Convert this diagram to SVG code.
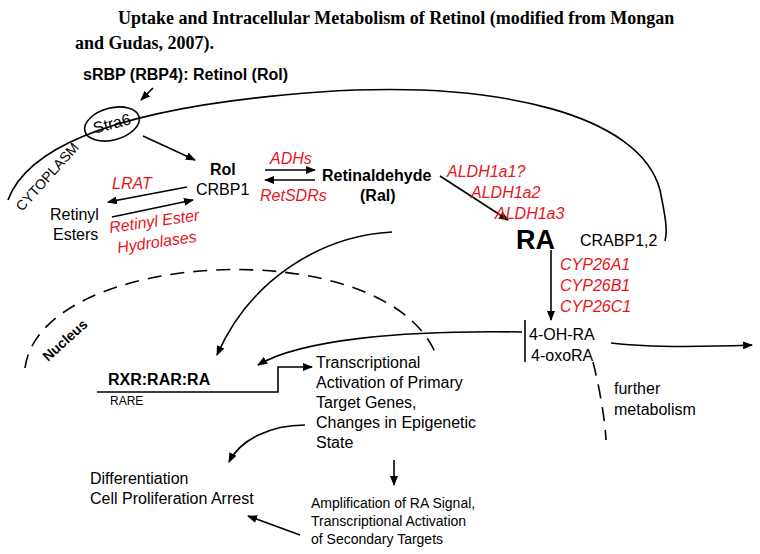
<svg xmlns="http://www.w3.org/2000/svg" width="760" height="554" viewBox="0 0 760 554">
<style>
text{font-family:"Liberation Sans",Arial,sans-serif;font-size:16px;fill:#000}
.t{font-family:"Liberation Serif","Times New Roman",serif;font-weight:bold;font-size:18px}
.b{font-weight:bold}
.r{fill:#e8141c;font-style:italic}
.s{font-size:14px}
.l{fill:none;stroke:#000;stroke-width:1.6}
.d{stroke-dasharray:14 9}
.a{marker-end:url(#ah)}
</style>
<defs><marker id="ah" markerWidth="10" markerHeight="8" refX="9" refY="4" orient="auto" markerUnits="userSpaceOnUse"><path d="M0,0L10,4L0,8Z"/></marker></defs>
<rect width="760" height="554" fill="#fff"/>
<text class="t" x="118" y="24">Uptake and Intracellular Metabolism of Retinol (modified from Mongan</text>
<text class="t" x="75" y="49">and Gudas, 2007).</text>
<g id="connectors">
<path class="l" d="M8,200 C30,140 140,105 320,92 C500,80 640,115 660,190 C665,215 668,230 665,241"/>
<path class="l a" d="M153,88 L141,100"/>
<path class="l a" d="M143,136 L195,160"/>
<path class="l a" d="M265,170 L315,170"/>
<path class="l a" d="M315,180 L265,180"/>
<path class="l a" d="M187,187 L108,202"/>
<path class="l a" d="M112,217 L193,200"/>
<path class="l a" d="M440,176 L508,220"/>
<path class="l a" d="M551,250 L551,320"/>
<path class="l" d="M525,320 L525,362"/>
<path class="l a" d="M611,343 C650,348 700,347 752,345"/>
<path class="l d" d="M593,362 C600,390 605,420 606,440"/>
<path class="l a" d="M392,232 C320,236 250,280 217,355"/>
<path class="l d" d="M25,368 C40,250 380,230 435,352"/>
<path class="l a" d="M522,332 C400,330 300,340 258,365"/>
<path class="l a" d="M97,392 L278,392 L278,367 L312,367"/>
<path class="l a" d="M305,425 C270,425 240,440 229,462"/>
<path class="l a" d="M394,460 L394,485"/>
<path class="l a" d="M300,535 L248,516"/>
</g>
<g id="sRBP"><text class="b" x="83" y="80">sRBP (RBP4): Retinol (Rol)</text></g>
<g id="Stra6"><ellipse class="l" cx="112" cy="124" rx="28" ry="16" transform="rotate(-15 112 124)"/><text x="112" y="129" text-anchor="middle" transform="rotate(-15 112 124)">Stra6</text></g>
<g id="cytoplasm"><text class="s" x="22" y="212" transform="rotate(-48 22 212)">CYTOPLASM</text></g>
<g id="Rol"><text class="b" x="210" y="175">Rol</text><text x="196" y="195">CRBP1</text></g>
<g id="enz1"><text class="r" x="270" y="164">ADHs</text><text class="r" x="260" y="201">RetSDRs</text></g>
<g id="Ral"><text class="b" x="322" y="181">Retinaldehyde</text><text class="b" x="360" y="201">(Ral)</text></g>
<g id="ALDH"><text class="r" x="447" y="177">ALDH1a1?</text><text class="r" x="471" y="198">ALDH1a2</text><text class="r" x="495" y="219">ALDH1a3</text></g>
<g id="LRAT"><text class="r" x="112" y="189">LRAT</text></g>
<g id="Retinyl"><text x="50" y="220">Retinyl</text><text x="53" y="240">Esters</text></g>
<g id="REH"><text class="r" x="110" y="233" transform="rotate(-8 110 233)">Retinyl Ester</text><text class="r" x="118" y="253" transform="rotate(-8 118 253)">Hydrolases</text></g>
<g id="RA"><text class="b" x="516" y="249" style="font-size:27px">RA</text><text x="580" y="246">CRABP1,2</text></g>
<g id="CYP"><text class="r" x="560" y="270">CYP26A1</text><text class="r" x="560" y="291">CYP26B1</text><text class="r" x="560" y="312">CYP26C1</text></g>
<g id="OHRA"><text x="529" y="340">4-OH-RA</text><text x="531" y="361">4-oxoRA</text></g>
<g id="further"><text x="614" y="394">further</text><text x="614" y="415">metabolism</text></g>
<g id="Nucleus"><text class="b s" x="48" y="362" transform="rotate(-42 48 362)">Nucleus</text></g>
<g id="RXR"><text class="b" x="108" y="385">RXR:RAR:RA</text><text x="110" y="405" style="font-size:12px">RARE</text></g>
<g id="TA"><text x="316" y="368">Transcriptional</text><text x="316" y="388">Activation of Primary</text><text x="316" y="408">Target Genes,</text><text x="316" y="428">Changes in Epigenetic</text><text x="316" y="448">State</text></g>
<g id="Diff"><text x="90" y="484">Differentiation</text><text x="90" y="504">Cell Proliferation Arrest</text></g>
<g id="Amp"><text class="s" x="311" y="508">Amplification of RA Signal,</text><text class="s" x="311" y="526">Transcriptional Activation</text><text class="s" x="311" y="544">of Secondary Targets</text></g>
</svg>
